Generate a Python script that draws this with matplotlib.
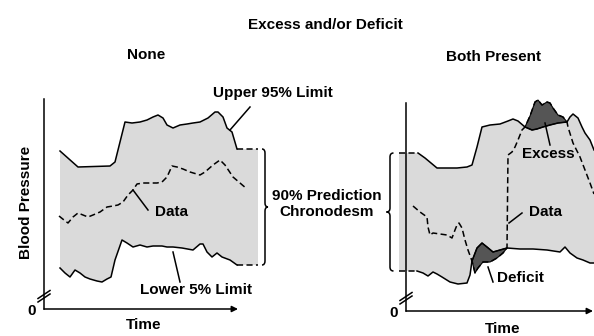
import numpy as np
import matplotlib.pyplot as plt
from matplotlib.path import Path
from matplotlib.patches import PathPatch

plt.rcParams["font.family"] = ["Liberation Sans", "DejaVu Sans"]
plt.rcParams["font.weight"] = "bold"

W, H = 594, 336

# ----- "None": data stays inside the chronodesm -----
none_upper_t = [16, 34, 66, 71, 81, 88, 96, 103, 109, 114, 119, 123, 129, 136, 143, 149,
                156, 164, 171, 174, 179, 183, 188, 193, 214]
none_upper_bp = [158, 142, 143, 147, 187, 186, 187, 189, 192, 194, 191, 184, 181, 184, 185, 186,
                 187, 191, 197, 197, 192, 181, 177, 160, 160]
none_lower_t = [16, 21, 26, 31, 36, 41, 46, 53, 58, 63, 67, 71, 78, 83, 89, 96, 103, 109, 118,
                123, 129, 138, 149, 156, 159, 163, 168, 173, 178, 186, 193, 214]
none_lower_bp = [41, 36, 32, 39, 36, 32, 30, 28, 27, 30, 32, 49, 69, 66, 62, 64, 62, 63, 63,
                 62, 62, 61, 59, 65, 65, 57, 52, 56, 52, 49, 44, 44]
none_data_t = [15, 20, 24, 29, 34, 39, 44, 49, 56, 63, 69, 74, 79, 84, 89, 93, 99, 106, 113,
               118, 123, 128, 133, 139, 146, 156, 161, 169, 176, 181, 189, 196, 203]
none_data_bp = [93, 89, 86, 92, 96, 94, 92, 94, 97, 102, 103, 104, 107, 114, 119, 125, 126, 126,
                126, 127, 132, 143, 142, 140, 137, 134, 137, 144, 149, 144, 132, 126, 120]

# ----- "Both Present": data leaves the chronodesm on both sides -----
both_upper_t = [-7, 12, 19, 31, 41, 51, 61, 66, 71, 76, 84, 94, 102, 107, 112, 119, 126, 131,
                137, 144, 152, 161, 164, 167, 172, 176, 179, 184, 188]
both_upper_bp = [158, 158, 153, 143, 143, 143, 144, 146, 164, 184, 186, 187, 190, 192, 190, 184,
                 181, 182, 184, 186, 188, 189, 194, 197, 193, 184, 178, 171, 161]
both_lower_t = [-7, 11, 17, 22, 27, 31, 36, 44, 52, 61, 64, 66, 71, 76, 81, 87, 94, 101, 114,
                127, 141, 154, 159, 164, 171, 177, 184, 188]
both_lower_bp = [40, 40, 38, 35, 39, 37, 34, 29, 27, 28, 36, 50, 63, 68, 64, 59, 61, 63, 62,
                 62, 61, 59, 64, 58, 53, 51, 48, 48]
both_data_t = [7, 14, 21, 22, 24, 27, 34, 41, 46, 49, 51, 53, 56, 59, 62, 66, 69, 72, 77, 84,
               91, 97, 101, 102, 106, 109, 112, 116, 119, 124, 129, 132, 136, 141, 144, 147,
               152, 157, 161, 162, 167, 174, 179, 184, 188]
both_data_bp = [105, 99, 94, 84, 76, 78, 77, 76, 73, 81, 86, 88, 83, 71, 61, 50, 38, 43, 49, 49,
                53, 58, 63, 156, 159, 164, 171, 181, 184, 195, 209, 211, 206, 209, 208, 203,
                196, 194, 189, 184, 168, 154, 141, 128, 117]

# time spans where the data crosses a limit
deficit_span = (66, 101)
excess_span = (119, 161)

FILL = "#dadada"
DARK = "#555555"
LW = 1.1
DASH = (4, 2.2)
FS = 11

fig = plt.figure(figsize=(W / 100, H / 100), dpi=100)


def panel(x0, y0, tmin, tmax, bpmax=215):
    # one time / pressure unit per pixel, origin at the axis corner (x0, y0)
    ax = fig.add_axes([(x0 + tmin) / W, (H - y0) / H, (tmax - tmin) / W, bpmax / H])
    ax.set_xlim(tmin, tmax)
    ax.set_ylim(0, bpmax)
    ax.axis("off")
    return ax


def draw_axes(ax, t_end, bp_top):
    ax.plot([0, 0], [0, bp_top], color="k", lw=LW, clip_on=False)
    ax.annotate("", xy=(t_end, 0), xytext=(0, 0),
                arrowprops=dict(arrowstyle="-|>", color="k", lw=LW, mutation_scale=9,
                                shrinkA=0, shrinkB=0))
    # axis break on the pressure axis
    for off in (0, 3.5):
        ax.plot([-6, 6], [7 + off, 15 + off], color="k", lw=LW, clip_on=False)
    ax.text(-12, -2, "0", ha="center", va="center", fontsize=FS)


def brace(ax, x, top, bottom, w, side):
    # curly brace, the middle point faces `side` (+1 right, -1 left)
    mid = (top + bottom) / 2
    r = 4
    d = side * w
    verts = [(x - d, top), (x, top), (x, top - r),
             (x, mid + r), (x, mid), (x + d, mid),
             (x, mid), (x, mid - r),
             (x, bottom + r), (x, bottom), (x - d, bottom)]
    codes = [Path.MOVETO, Path.CURVE3, Path.CURVE3,
             Path.LINETO, Path.CURVE3, Path.CURVE3,
             Path.CURVE3, Path.CURVE3,
             Path.LINETO, Path.CURVE3, Path.CURVE3]
    ax.add_patch(PathPatch(Path(verts, codes), fill=False, lw=LW, color="k", clip_on=False))


def chronodesm(ax, ut, ub, lt, lb):
    ax.fill(np.concatenate([ut, lt[::-1]]), np.concatenate([ub, lb[::-1]]),
            color=FILL, lw=0, zorder=1, clip_on=False)


def leader(ax, t, bp):
    ax.plot(t, bp, color="k", lw=LW, clip_on=False, zorder=4)


# ----- left panel -----
ax1 = panel(44, 309, -40, 230)
ut, ub = np.array(none_upper_t), np.array(none_upper_bp)
lt, lb = np.array(none_lower_t), np.array(none_lower_bp)
chronodesm(ax1, ut, ub, lt, lb)
for t, b in ((ut, ub), (lt, lb)):
    ax1.plot(t[:-1], b[:-1], color="k", lw=LW, zorder=3)
    ax1.plot(t[-2:], b[-2:], color="k", lw=LW, dashes=DASH, zorder=3, clip_on=False)
ax1.plot(none_data_t, none_data_bp, color="k", lw=LW, dashes=DASH, zorder=3, clip_on=False)
draw_axes(ax1, 194, 210)
brace(ax1, 221, ub[-1], lb[-1], 3, 1)

leader(ax1, [186, 206], [179, 202])
ax1.text(229, 216, "Upper 95% Limit", ha="center", va="center", fontsize=FS)
leader(ax1, [89, 104], [119, 99])
ax1.text(127, 97, "Data", ha="center", va="center", fontsize=FS)
leader(ax1, [129, 136], [57, 27])
ax1.text(152, 19, "Lower 5% Limit", ha="center", va="center", fontsize=FS)

# ----- right panel -----
ax2 = panel(406, 311, -30, 188)
ut, ub = np.array(both_upper_t), np.array(both_upper_bp)
lt, lb = np.array(both_lower_t), np.array(both_lower_bp)
dt, db = np.array(both_data_t), np.array(both_data_bp)
chronodesm(ax2, ut, ub, lt, lb)

# deficit: between lower limit (top) and data (bottom)
m_l = (lt >= deficit_span[0]) & (lt <= deficit_span[1])
m_d = (dt >= deficit_span[0]) & (dt <= deficit_span[1])
ax2.fill(np.concatenate([lt[m_l], dt[m_d][::-1]]), np.concatenate([lb[m_l], db[m_d][::-1]]),
         facecolor=DARK, edgecolor="k", lw=0.8, zorder=2)
# excess: between data (top) and upper limit (bottom)
m_u = (ut >= excess_span[0]) & (ut <= excess_span[1])
m_d = (dt >= excess_span[0]) & (dt <= excess_span[1])
ax2.fill(np.concatenate([dt[m_d], ut[m_u][::-1]]), np.concatenate([db[m_d], ub[m_u][::-1]]),
         facecolor=DARK, edgecolor="k", lw=0.8, zorder=2)

for t, b in ((ut, ub), (lt, lb)):
    ax2.plot(t[1:], b[1:], color="k", lw=LW, zorder=3, clip_on=False)
    ax2.plot(t[:2], b[:2], color="k", lw=LW, dashes=DASH, zorder=3, clip_on=False)
ax2.plot(dt, db, color="k", lw=LW, dashes=DASH, zorder=3, clip_on=False)
draw_axes(ax2, 187, 208)
brace(ax2, -16, ub[0], lb[0], 3.5, -1)

leader(ax2, [139, 144], [188, 166])
ax2.text(142, 157, "Excess", ha="center", va="center", fontsize=FS)
leader(ax2, [103, 116], [88, 98])
ax2.text(139, 99, "Data", ha="center", va="center", fontsize=FS)
leader(ax2, [82, 87], [44, 29])
ax2.text(114, 33, "Deficit", ha="center", va="center", fontsize=FS)

# ----- titles and axis names -----
def ftext(x, y, s, **kw):
    fig.text(x / W, 1 - y / H, s, ha="center", va="center", fontsize=FS, **kw)


ftext(325, 25, "Excess and/or Deficit")
ftext(146, 55, "None")
ftext(493, 57, "Both Present")
ftext(26, 202, "Blood Pressure", rotation=90)
ftext(144, 325, "Time")
ftext(503, 329, "Time")
ftext(327, 204, "90% Prediction\nChronodesm", linespacing=1.2)

fig.savefig("out.png", dpi=100)
